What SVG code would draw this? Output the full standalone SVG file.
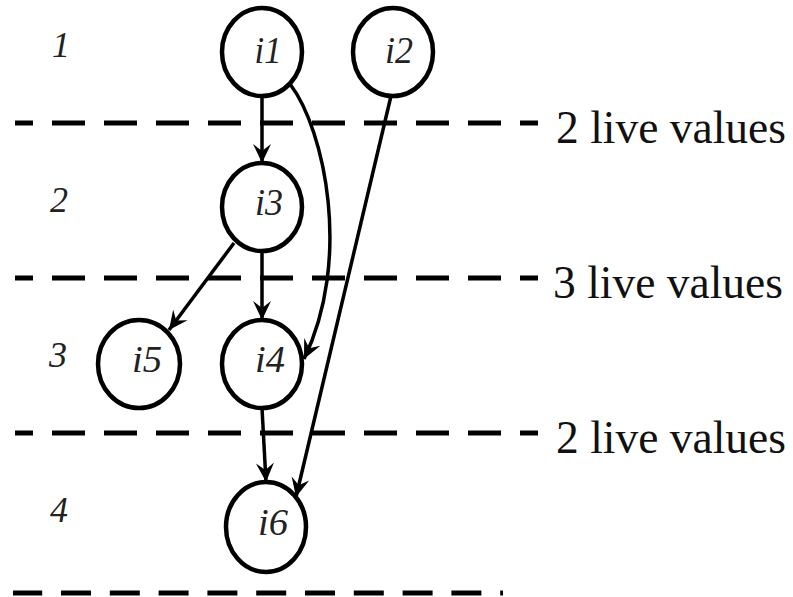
<svg xmlns="http://www.w3.org/2000/svg" width="793" height="597" viewBox="0 0 793 597">
<style>
  .node ellipse { fill: #fff; stroke: #000; stroke-width: 4.5; }
  .nlabel { font-family: 'Liberation Serif', Tinos, 'Times New Roman', serif; font-style: italic; font-size: 38px; fill: #222; text-anchor: middle; }
  .row { font-family: 'Liberation Serif', Tinos, 'Times New Roman', serif; font-style: italic; font-size: 36px; fill: #222; text-anchor: middle; }
  .live { font-family: 'Liberation Serif', Tinos, 'Times New Roman', serif; font-size: 45.5px; fill: #111; }
  .dash { stroke: #000; stroke-width: 5; stroke-dasharray: 33 19; stroke-dashoffset: 15; fill: none; }
  .dash2 { stroke: #000; stroke-width: 5; stroke-dasharray: 30 18.8; stroke-dashoffset: 0.8; fill: none; }
  .edge { stroke: #000; stroke-width: 3.5; fill: none; marker-end: url(#arr); }
</style>
<defs>
  <marker id="arr" markerUnits="userSpaceOnUse" markerWidth="22" markerHeight="22" refX="19" refY="10" orient="auto">
    <path d="M0,1 L19,10 L0,19 L7,10 Z" fill="#000"/>
  </marker>
</defs>
<rect width="793" height="597" fill="#fff"/>
<g id="separators">
  <line class="dash" x1="15" y1="123" x2="538" y2="123"/>
  <line class="dash" x1="15" y1="278" x2="538" y2="278"/>
  <line class="dash" x1="15" y1="433" x2="538" y2="433"/>
  <line class="dash2" x1="13" y1="593" x2="503" y2="593"/>
  <text class="live" x="556" y="143">2 live values</text>
  <text class="live" x="553" y="298">3 live values</text>
  <text class="live" x="556" y="453">2 live values</text>
</g>
<g id="rows">
  <text class="row" x="61" y="57">1</text>
  <text class="row" x="59" y="212">2</text>
  <text class="row" x="58" y="367">3</text>
  <text class="row" x="59" y="522">4</text>
</g>
<g id="connectors">
  <line class="edge" x1="262" y1="96" x2="262" y2="163"/>
  <line class="edge" x1="262" y1="251" x2="262" y2="320"/>
  <line class="edge" x1="262" y1="408" x2="266" y2="482"/>
  <line class="edge" x1="234" y1="243" x2="169" y2="330"/>
  <line class="edge" x1="391" y1="96" x2="296" y2="497"/>
  <path class="edge" d="M290,84 C325,130 352,260 304,359"/>
</g>
<g id="i1" class="node"><ellipse cx="262" cy="52" rx="40" ry="44"/><text class="nlabel" x="268" y="63" textLength="27" lengthAdjust="spacingAndGlyphs">i1</text></g>
<g id="i2" class="node"><ellipse cx="393" cy="52" rx="40" ry="44"/><text class="nlabel" x="399" y="63" textLength="28" lengthAdjust="spacingAndGlyphs">i2</text></g>
<g id="i3" class="node"><ellipse cx="262" cy="207" rx="40" ry="44"/><text class="nlabel" x="269" y="215" textLength="28" lengthAdjust="spacingAndGlyphs">i3</text></g>
<g id="i5" class="node"><ellipse cx="139" cy="364" rx="41" ry="44"/><text class="nlabel" x="147" y="372" textLength="30" lengthAdjust="spacingAndGlyphs">i5</text></g>
<g id="i4" class="node"><ellipse cx="262" cy="364" rx="40" ry="44"/><text class="nlabel" x="270" y="372" textLength="30" lengthAdjust="spacingAndGlyphs">i4</text></g>
<g id="i6" class="node"><ellipse cx="266" cy="527" rx="40" ry="45"/><text class="nlabel" x="273" y="535" textLength="30" lengthAdjust="spacingAndGlyphs">i6</text></g>
</svg>
